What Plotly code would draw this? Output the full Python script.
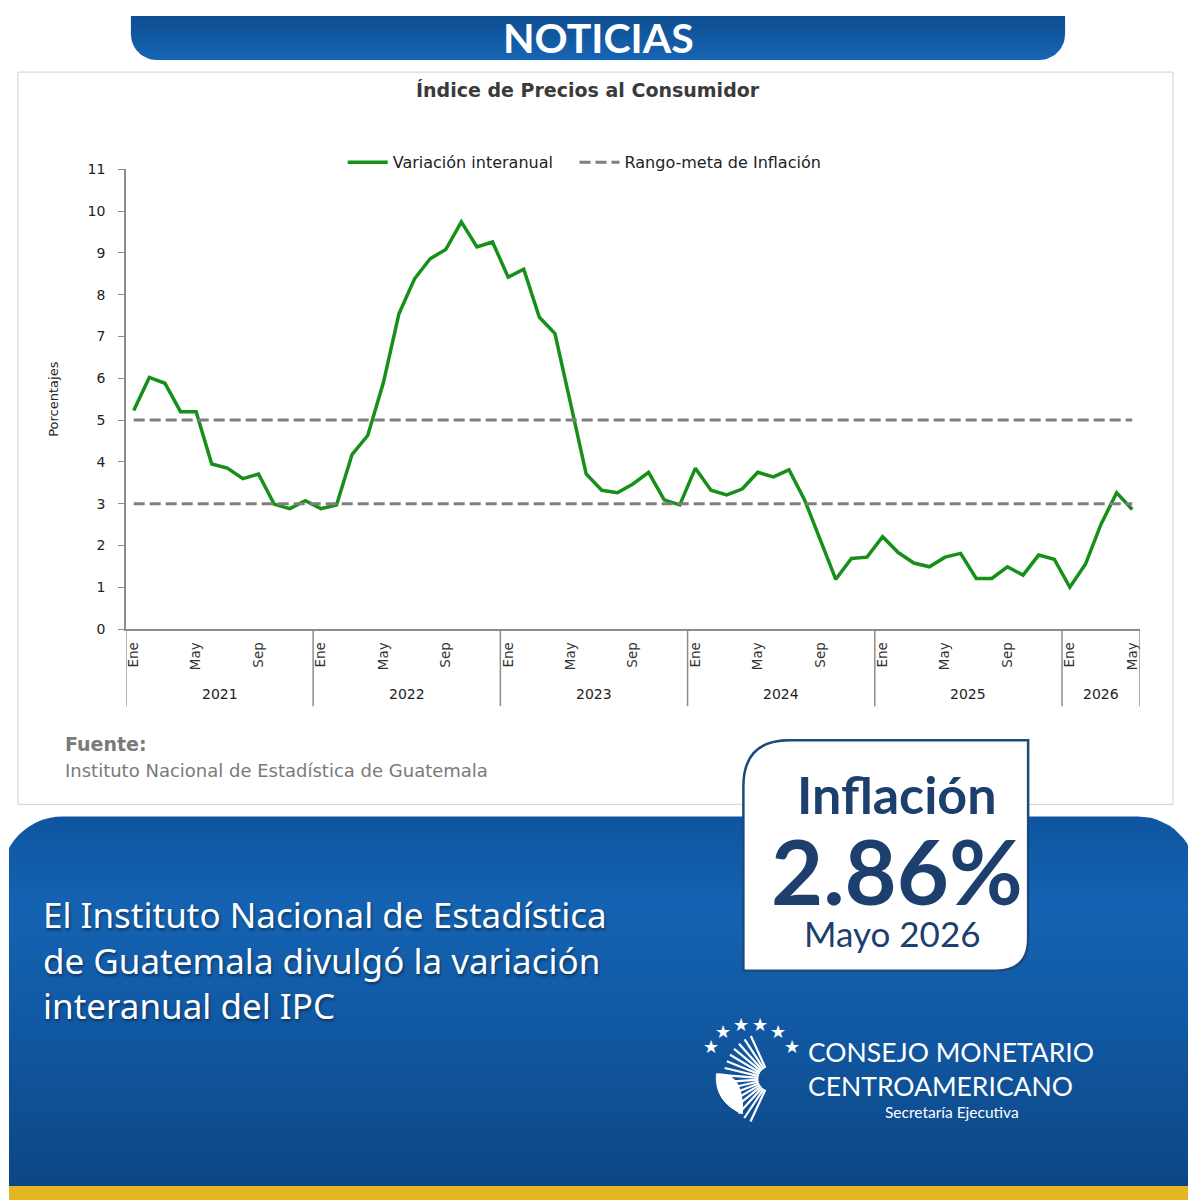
import plotly.graph_objects as go
import math

# ---------------- data ----------------
years = [2021, 2022, 2023, 2024, 2025, 2026]
month_names = ["Ene", "Feb", "Mar", "Abr", "May", "Jun", "Jul", "Ago", "Sep", "Oct", "Nov", "Dic"]
shown_months = ["Ene", "May", "Sep"]
n_months_last_year = 5

variacion_interanual = [
    5.23, 6.02, 5.88, 5.20, 5.20, 3.95, 3.85, 3.60, 3.71, 2.99, 2.88, 3.07,   # 2021
    2.88, 2.97, 4.18, 4.63, 5.89, 7.54, 8.38, 8.86, 9.08, 9.74, 9.14, 9.26,   # 2022
    8.42, 8.61, 7.46, 7.07, 5.40, 3.71, 3.32, 3.26, 3.47, 3.75, 3.09, 2.97,   # 2023
    3.85, 3.32, 3.21, 3.35, 3.75, 3.64, 3.81, 3.09, 2.14, 1.19, 1.69, 1.72,   # 2024
    2.21, 1.83, 1.58, 1.49, 1.72, 1.81, 1.21, 1.21, 1.49, 1.29, 1.77, 1.67,   # 2025
    1.00, 1.55, 2.51, 3.26, 2.86,                                             # 2026
]
meta_inferior = 3
meta_superior = 5
y_ticks = list(range(0, 12))

inflacion_valor = "2.86%"
inflacion_periodo = "Mayo 2026"

# ---------------- page geometry ----------------
# positions below are in picture pixels; the figure appears offset (OX, OY) and
# slightly compressed vertically (S) in the final picture
OX, OY, S = 8, 16, 0.985
W, H = 1180, 1204

def X(p):  # picture x -> paper x
    return (p - OX) / W

def Y(p):  # picture y -> paper y
    return 1 - ((p - OY) / S) / H

labels = []
for yr in years:
    k = 12 if yr != years[-1] else n_months_last_year
    for m in range(k):
        labels.append((yr, month_names[m]))
xs = list(range(len(labels)))
tickvals = [i for i, (yr, m) in enumerate(labels) if m in shown_months]
ticktext = [labels[i][1] for i in tickvals]

FONT = "Lato, 'Noto Sans', sans-serif"
WIDE = "'DejaVu Sans', Lato, sans-serif"
BODY = "'Noto Sans', Lato, sans-serif"
GRAY_AX = "#8c8c8c"
NAVY = "#1d3f6e"

fig = go.Figure()

# ---------- gradient backgrounds on hidden picture-pixel axes (x2 = x, y2 = -y) ----------
def rounded_pts(x0, y0, x1, y1, tl=0, tr=0, br=0, bl=0, n=14):
    pts = []
    def arc(cx, cy, r, a0, a1):
        for i in range(n + 1):
            a = math.radians(a0 + (a1 - a0) * i / n)
            pts.append((cx + r * math.cos(a), cy + r * math.sin(a)))
    if tl: arc(x0 + tl, y0 + tl, tl, 180, 270)
    else: pts.append((x0, y0))
    if tr: arc(x1 - tr, y0 + tr, tr, 270, 360)
    else: pts.append((x1, y0))
    if br: arc(x1 - br, y1 - br, br, 0, 90)
    else: pts.append((x1, y1))
    if bl: arc(x0 + bl, y1 - bl, bl, 90, 180)
    else: pts.append((x0, y1))
    pts.append(pts[0])
    return [p[0] for p in pts], [-p[1] for p in pts]

hx, hy = rounded_pts(130, 0, 1065, 60, br=26, bl=26)
fig.add_trace(go.Scatter(x=hx, y=hy, xaxis="x2", yaxis="y2", mode="lines", fill="toself",
                         line=dict(width=0, color="rgba(0,0,0,0)"),
                         fillgradient=dict(type="vertical",
                                           colorscale=[[0, "#1766b5"], [1, "#0a4482"]]),
                         hoverinfo="skip", showlegend=False))
bx, by = rounded_pts(0, 815, 1196, 1184, tl=62, tr=58)
fig.add_trace(go.Scatter(x=bx, y=by, xaxis="x2", yaxis="y2", mode="lines", fill="toself",
                         line=dict(width=0, color="rgba(0,0,0,0)"),
                         fillgradient=dict(type="vertical",
                                           colorscale=[[0, "#0d4684"], [0.45, "#1159a4"],
                                                       [0.75, "#1463b2"], [1, "#0e55a0"]]),
                         hoverinfo="skip", showlegend=False))

# ---------- data traces ----------
fig.add_trace(go.Scatter(x=xs, y=variacion_interanual, mode="lines",
                         name="Variación interanual", legend="legend",
                         line=dict(color="#17901a", width=3.5)))
fig.add_trace(go.Scatter(x=[xs[0], xs[-1]], y=[meta_superior, meta_superior], mode="lines",
                         name="Rango-meta de Inflación", legend="legend2",
                         line=dict(color="#7f7f7f", width=3, dash="11px,5px")))
fig.add_trace(go.Scatter(x=[xs[0], xs[-1]], y=[meta_inferior, meta_inferior], mode="lines",
                         name="Rango-meta de Inflación", showlegend=False, legend="legend2",
                         line=dict(color="#7f7f7f", width=3, dash="11px,5px")))

shapes = []
ann = []

def text(x, y, s, size, color, family=FONT, xa="center", ya="middle", **kw):
    ann.append(dict(xref="paper", yref="paper", x=X(x), y=Y(y), text=s, showarrow=False,
                    xanchor=xa, yanchor=ya, font=dict(family=family, size=size, color=color), **kw))

# white chart panel (paper-referenced so it stays below every subplot)
shapes.append(dict(type="rect", xref="paper", yref="paper", layer="below",
                   x0=X(17), x1=X(1173), y0=Y(803), y1=Y(72),
                   fillcolor="white", line=dict(color="#d0d0d0", width=1)))

# year dividers and year labels
bounds = [-0.5]
for yr in years:
    bounds.append(bounds[-1] + sum(1 for l in labels if l[0] == yr))
for b in bounds:
    shapes.append(dict(type="line", xref="x", yref="paper", x0=b, x1=b,
                       y0=Y(628), y1=Y(705), line=dict(color=GRAY_AX, width=1.5)))
for i, yr in enumerate(years):
    ann.append(dict(xref="x", yref="paper", x=(bounds[i] + bounds[i + 1]) / 2, y=Y(693),
                    xanchor="center", yanchor="middle",
                    text=str(yr), showarrow=False, font=dict(family=WIDE, size=14, color="#222")))

# title
text(587, 90, "<b>Índice de Precios al Consumidor</b>", 19, "#3a3a3a", family=WIDE)
# source
text(62, 743, "<b>Fuente:</b>", 19, "#7a7a7a", family=WIDE, xa="left")
text(62, 769, "Instituto Nacional de Estadística de Guatemala", 18, "#7a7a7a", family=WIDE, xa="left")

# header text
text(598, 37, "<b>NOTICIAS</b>", 41, "white")

# main text
text(40, 958, "El Instituto Nacional de Estadística<br>de Guatemala divulgó la variación<br>interanual del IPC",
     35, "white", family=BODY, xa="left", align="left")
ann[-1]["font"]["shadow"] = "1px 2px 3px rgba(0,0,0,0.45)"

# inflation box
x0b, x1b, y0b, y1b = 743, 1028, 739, 969
r1, r2 = 46, 32
path = (f"M {x0b},{-(y0b+r1)} Q {x0b},{-y0b} {x0b+r1},{-y0b} "
        f"L {x1b},{-y0b} L {x1b},{-(y1b-r2)} Q {x1b},{-y1b} {x1b-r2},{-y1b} "
        f"L {x0b},{-y1b} Z")
shapes.append(dict(type="path", xref="x2", yref="y2", path=path, layer="above",
                   fillcolor="white", line=dict(color="#1d4a7e", width=2.5)))
text(897, 793, "<b>Inflación</b>", 52, NAVY)
text(897, 869, f"<b>{inflacion_valor}</b>", 90, NAVY)
text(892, 931, inflacion_periodo, 35, NAVY)

# logo text
text(806, 1067, "CONSEJO MONETARIO<br>CENTROAMERICANO", 26.5, "white", xa="left", align="left")
text(952, 1110, "Secretaría Ejecutiva", 15.5, "white")

# logo emblem (decorative)
for sx, sy in [(711, 1045), (723, 1030), (741, 1023), (760, 1023), (778, 1030), (792, 1045)]:
    text(sx, sy, "★", 18, "white", family="'DejaVu Sans'")
cx, cy = 770, 1077
for k in range(16):
    a = math.radians(115 + k * 8.7)
    xi, yi = cx + 12 * math.cos(a), cy + 12 * math.sin(a)
    xo, yo = cx + 47 * math.cos(a), cy + 47 * math.sin(a)
    shapes.append(dict(type="line", xref="x2", yref="y2", x0=xi, y0=-yi, x1=xo, y1=-yo,
                       line=dict(color="white", width=2.2)))
leaf = f"M 716,{-1072} Q 744,{-1070} 742,{-1112} Q 714,{-1100} 716,{-1072} Z"
shapes.append(dict(type="path", xref="x2", yref="y2", path=leaf, fillcolor="white",
                   line=dict(color="white", width=1)))

# yellow bottom band
shapes.append(dict(type="rect", xref="paper", yref="paper", layer="below",
                   x0=0, x1=1, y0=0, y1=Y(1184), fillcolor="#e4b621", line=dict(width=0)))

leg_common = dict(orientation="h", xanchor="left", yanchor="middle", bgcolor="rgba(0,0,0,0)",
                  font=dict(family=WIDE, size=16, color="#222"), itemwidth=40)

fig.update_layout(
    width=W, height=H, margin=dict(l=0, r=0, t=0, b=0),
    paper_bgcolor="white", plot_bgcolor="rgba(0,0,0,0)",
    shapes=shapes, annotations=ann,
    showlegend=True,
    legend=dict(x=X(342), y=Y(162), **leg_common),
    legend2=dict(x=X(574), y=Y(162), **leg_common),
    xaxis=dict(domain=[X(125), X(1140)], range=[-0.5, len(xs) - 0.5],
               tickmode="array", tickvals=tickvals, ticktext=ticktext, tickangle=-90,
               showline=True, linecolor=GRAY_AX, linewidth=1.5, ticks="",
               showgrid=False, zeroline=False, ticklabelstandoff=6,
               tickfont=dict(family=WIDE, size=13.5, color="#333"), anchor="y"),
    yaxis=dict(domain=[Y(628), Y(169)], range=[0, 11], tickmode="array", tickvals=y_ticks,
               ticks="outside", ticklen=6, tickcolor=GRAY_AX, showline=True, linecolor=GRAY_AX,
               linewidth=1.5, showgrid=False, zeroline=False, ticklabelstandoff=10,
               tickfont=dict(family=WIDE, size=14, color="#222"),
               title=dict(text="Porcentajes", font=dict(family=WIDE, size=13, color="#222"),
                          standoff=26),
               anchor="x"),
    xaxis2=dict(domain=[0, 1], range=[OX, OX + W], visible=False, anchor="y2", fixedrange=True),
    yaxis2=dict(domain=[0, 1], range=[-(OY + S * H), -OY], visible=False, anchor="x2",
                fixedrange=True),
)

fig.write_html("out.html")
